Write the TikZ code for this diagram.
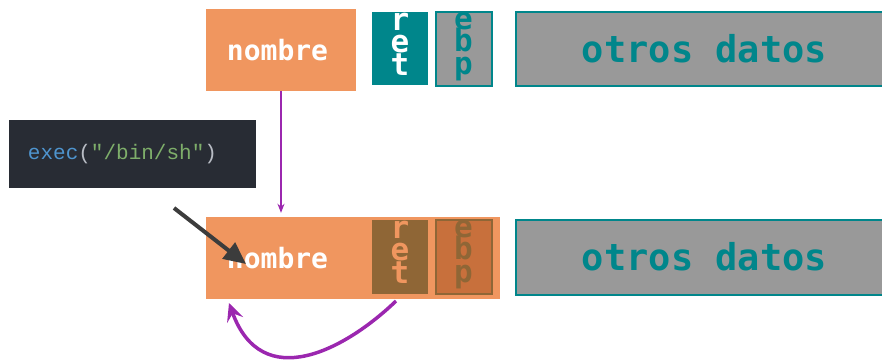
\documentclass[tikz,border=0pt]{standalone}
\usepackage{fontspec}
\usepackage{tikz}
\usetikzlibrary{arrows.meta,calc}
\newfontfamily\monofnt{DejaVu Sans Mono}
\newfontfamily\codefnt{Liberation Mono}
\definecolor{naranja}{HTML}{F0965F}
\definecolor{verdeazul}{HTML}{00868B}
\definecolor{gris}{HTML}{999999}
\definecolor{marron}{HTML}{8F6636}
\definecolor{tostado}{HTML}{C8703C}
\definecolor{fondocod}{HTML}{282C34}
\definecolor{azulcod}{HTML}{4E94CE}
\definecolor{verdecod}{HTML}{7EAE6A}
\definecolor{grisclaro}{HTML}{B8BCC4}
\definecolor{morado}{HTML}{9B27AF}
\definecolor{grisosc}{HTML}{3C3C3C}
\tikzset{
  letra/.style={font=\monofnt\bfseries\fontsize{31}{31}\selectfont,text=#1,
                anchor=base,inner sep=0pt},
  ptrarrow/.style={-{Stealth[length=9pt,width=7pt]},line width=1.4pt,morado,
                   shorten >=4pt},
  callarrow/.style={-{Triangle[length=22pt,width=20pt]},line width=4pt,grisosc},
  jumparrow/.style={-{Stealth[length=18pt,width=17pt,inset=7pt]},line width=3.5pt,
                    morado}}
% three letters stacked inside a slot
\newcommand{\letras}[5]{%
  \foreach \l/\dy in {#3/0,#4/22.5,#5/45}{%
    \node[letra=#2] at ($(#1.north)+(0,{18.5+\dy})$) {\l};}}
\begin{document}
\begin{tikzpicture}[x=1pt,y=-1pt]
\useasboundingbox (0,0) rectangle (882,362);

% marco de arriba
\node[fill=naranja,minimum width=150pt,minimum height=82pt] (nom1) at (281,50) {};
\node[font=\monofnt\bfseries\fontsize{28}{28}\selectfont,text=white]
  (nomtxt1) at (277.5,50) {nombre};
\node[fill=verdeazul,minimum width=56pt,minimum height=73pt] (ret1) at (400,48.5) {};
\node[fill=gris,draw=verdeazul,line width=2pt,minimum width=56pt,
      minimum height=74pt] (ebp1) at (463.5,48.5) {};
\node[fill=gris,draw=verdeazul,line width=2pt,minimum width=370pt,
      minimum height=74pt,font=\monofnt\bfseries\fontsize{37}{37}\selectfont,
      text=verdeazul] (otros1) at (700.5,48.5) {\hspace*{8pt}otros datos};
\letras{ret1}{white}{r}{e}{t}
\letras{ebp1}{verdeazul}{e}{b}{p}

% marco de abajo
\node[fill=naranja,minimum width=294pt,minimum height=82pt] (nom2) at (353,258) {};
\node[font=\monofnt\bfseries\fontsize{28}{28}\selectfont,text=white]
  (nomtxt2) at (277.5,258) {nombre};
\node[fill=marron,minimum width=56pt,minimum height=74pt] (ret2) at (400,257) {};
\node[fill=tostado,draw=marron,line width=2pt,minimum width=56pt,
      minimum height=74pt] (ebp2) at (463.5,256.5) {};
\node[fill=gris,draw=verdeazul,line width=2pt,minimum width=370pt,
      minimum height=75pt,font=\monofnt\bfseries\fontsize{37}{37}\selectfont,
      text=verdeazul] (otros2) at (700.5,257) {\hspace*{8pt}otros datos};
\letras{ret2}{naranja}{r}{e}{t}
\letras{ebp2}{marron}{e}{b}{p}

% codigo
\node[fill=fondocod,minimum width=247pt,minimum height=68pt,
      font=\codefnt\fontsize{21}{21}\selectfont] (cod) at (132.5,154)
  {\hspace*{-20pt}\textcolor{azulcod}{exec}\textcolor{grisclaro}{(}%
   \textcolor{verdecod}{"/bin/sh"}\textcolor{grisclaro}{)}};

% flechas
\coordinate (inyec) at (174,208);
\coordinate (punta) at (246,264);
\coordinate (sale) at (396,301);
\coordinate (vuelve) at (229,303);
\draw[ptrarrow] (nom1.south) -- (nom1.south |- nom2.north);
\draw[callarrow] (inyec) -- (punta);
\draw[jumparrow] (sale) .. controls (345,350) and (262,394) .. (vuelve);
\end{tikzpicture}
\end{document}
